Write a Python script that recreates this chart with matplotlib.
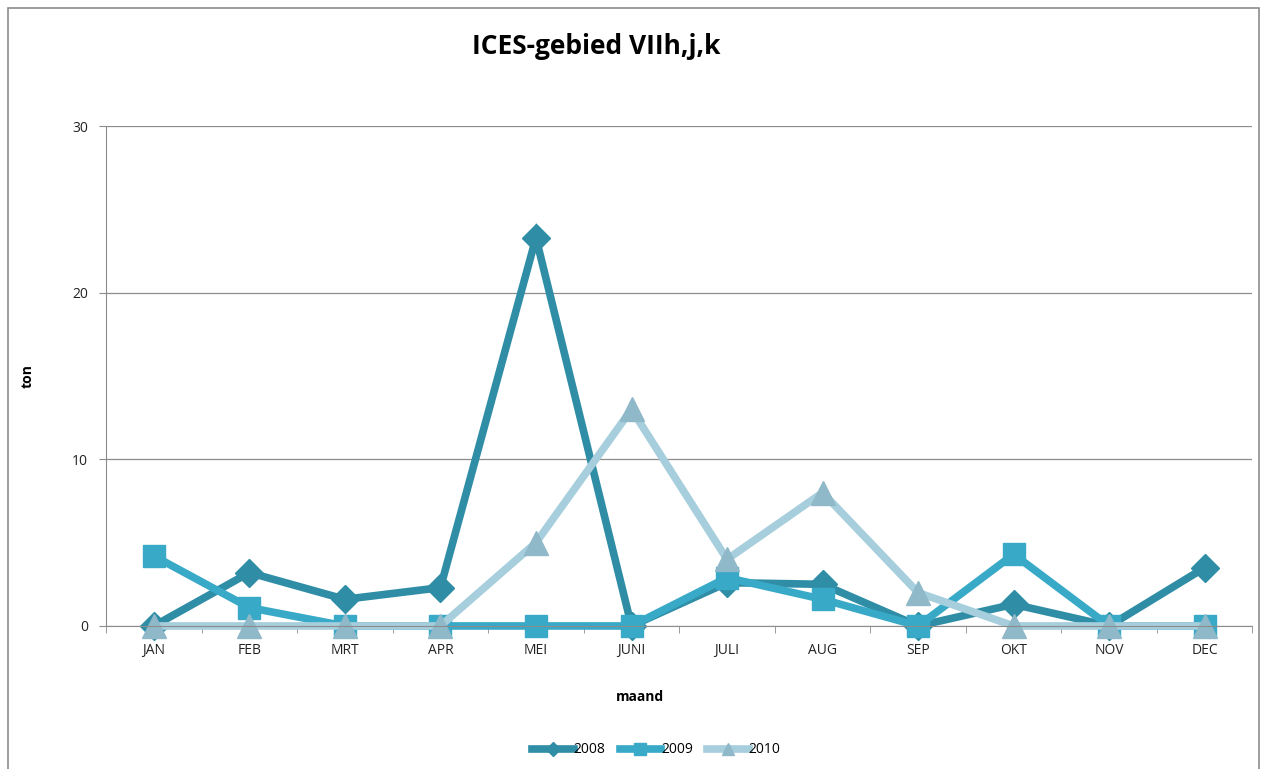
import matplotlib
matplotlib.use("Agg")
import matplotlib.pyplot as plt
import numpy as np

months = ["JAN", "FEB", "MRT", "APR", "MEI", "JUNI", "JULI", "AUG", "SEP", "OKT", "NOV", "DEC"]
ton_2008 = [0, 3.2, 1.6, 2.3, 23.3, 0, 2.6, 2.5, 0, 1.3, 0, 3.5]
ton_2009 = [4.2, 1.1, 0, 0, 0, 0, 2.9, 1.6, 0, 4.3, 0, 0]
ton_2010 = [0, 0, 0, 0, 5.0, 13.0, 4.0, 8.0, 2.0, 0, 0, 0]

plt.rcParams['font.family'] = ['Open Sans', 'DejaVu Sans']

fig = plt.figure(figsize=(12.64, 7.69), dpi=100)
ax = fig.add_axes((0.0839, 0.186, 0.907, 0.65))

x = np.arange(len(months))
series = [
    ("2008", ton_2008, "#2F8DA6", "D", 14),
    ("2009", ton_2009, "#38A9C7", "s", 16),
    ("2010", ton_2010, "#A6CEDC", "^", 17),
]
for lbl, vals, col, mk, ms in series:
    mcol = "#8FB8C8" if mk == "^" else col
    ax.plot(x, vals, color=col, lw=5.5, marker=mk, markersize=ms,
            markerfacecolor=mcol, markeredgecolor=mcol, label=lbl,
            solid_joinstyle="miter", clip_on=False)

ax.set_xlim(-0.5, 11.5)
ax.set_ylim(0, 30)
ax.set_yticks([0, 10, 20, 30])
ax.yaxis.grid(True, color="#8C8C8C", lw=0.9)
ax.set_axisbelow(True)
ax.set_xticks(x)
ax.set_xticklabels(months, fontsize=10, color="#222222")
ax.set_xticks(np.arange(-0.5, 12, 1), minor=True)
ax.tick_params(axis="x", which="major", length=0, pad=12)
ax.tick_params(axis="x", which="minor", length=5, color="#8C8C8C", direction="out")
ax.tick_params(axis="y", length=5, color="#8C8C8C", labelsize=10, labelcolor="#222222", pad=8)
for s in ["top", "right"]:
    ax.spines[s].set_visible(False)
ax.spines["left"].set_color("#8C8C8C")
ax.spines["bottom"].set_color("#8C8C8C")

ax.set_ylabel("ton", fontsize=10, fontweight="bold")
ax.yaxis.set_label_coords(-0.062, 0.5)
ax.set_xlabel("maand", fontsize=10, fontweight="bold")
ax.xaxis.set_label_coords(0.466, -0.128)
fig.text(0.472, 0.94, "ICES-gebied VIIh,j,k", ha="center", va="center",
         fontsize=19, fontweight="bold")

ax.legend(loc="center", bbox_to_anchor=(0.48, -0.248), ncol=3, frameon=False,
          fontsize=10, handlelength=3, columnspacing=1.0, handletextpad=0.0,
          markerscale=0.5)

fig.add_artist(plt.Rectangle((0.006, -0.01), 0.99, 1.0, transform=fig.transFigure,
                             fill=False, edgecolor="#8C8C8C", lw=1.2))

fig.savefig("out.png", dpi=100)
